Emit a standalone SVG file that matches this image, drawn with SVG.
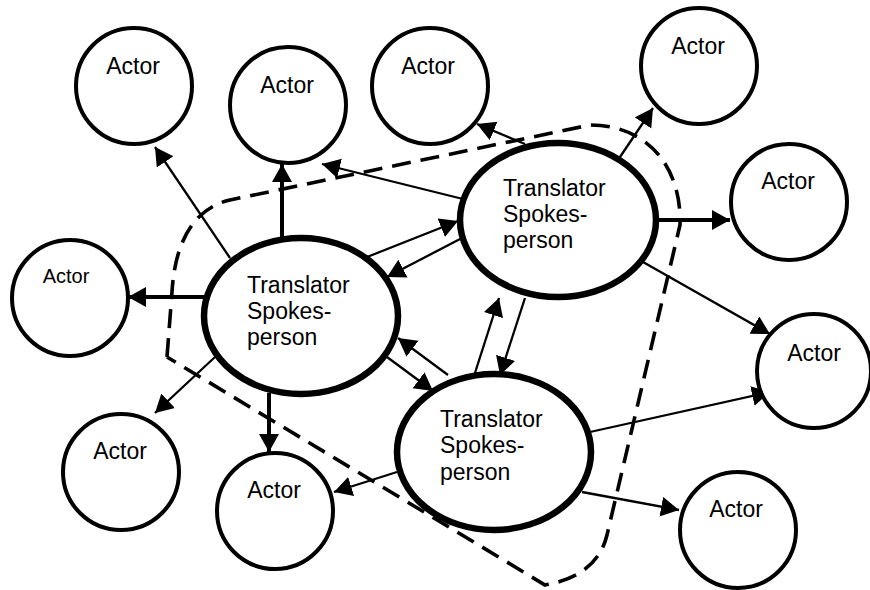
<svg xmlns="http://www.w3.org/2000/svg" width="870" height="590" viewBox="0 0 870 590">
<style>
.actor{fill:#fff;stroke:#000;stroke-width:4}
.trans{fill:#fff;stroke:#000;stroke-width:6.5}
.t{font-family:"Liberation Sans",Arial,sans-serif;font-size:23px;fill:#000}
.c{text-anchor:middle}
.thin{stroke:#000;stroke-width:2.3;fill:none;marker-end:url(#ah)}
.thick{stroke:#000;stroke-width:4;fill:none;marker-end:url(#ah)}
.dash{stroke:#000;stroke-width:3.6;fill:none;stroke-dasharray:19 10}
</style>
<defs>
<marker id="ah" markerUnits="userSpaceOnUse" markerWidth="20" markerHeight="22" refX="18" refY="10" orient="auto">
<path d="M0,0 L18,10 L0,20 Z" fill="#000"/>
</marker>
</defs>
<rect width="870" height="590" fill="#fff"/>
<g id="boundary">
<path class="dash" d="M167,357 L172,292 C175,240 195,208 230,200 L590,125 C650,125 682,170 680,225 L607,535 Q597,576 545,585 L167,357"/>
</g>
<g id="connectors">
<line class="thin" x1="230" y1="258" x2="155" y2="147"/>
<line class="thick" x1="282" y1="238" x2="282" y2="164"/>
<line class="thick" x1="205" y1="297" x2="128" y2="297"/>
<line class="thin" x1="215" y1="357" x2="155" y2="413"/>
<line class="thick" x1="269" y1="393" x2="269" y2="452"/>
<line class="thin" x1="387" y1="357" x2="433" y2="391"/>
<line class="thin" x1="448" y1="375" x2="398" y2="338"/>
<line class="thin" x1="367" y1="257" x2="458" y2="221"/>
<line class="thin" x1="462" y1="238" x2="387" y2="277"/>
<line class="thin" x1="463" y1="199" x2="322" y2="164"/>
<line class="thin" x1="525" y1="144" x2="477" y2="124"/>
<line class="thin" x1="620" y1="157" x2="653" y2="108"/>
<line class="thick" x1="657" y1="220" x2="730" y2="220"/>
<line class="thin" x1="643" y1="262" x2="770" y2="334"/>
<line class="thin" x1="525" y1="298" x2="500" y2="375"/>
<line class="thin" x1="474" y1="376" x2="499" y2="298"/>
<line class="thin" x1="590" y1="432" x2="770" y2="392"/>
<line class="thin" x1="582" y1="492" x2="679" y2="510"/>
<line class="thin" x1="397" y1="472" x2="334" y2="492"/>
</g>
<g id="actor1"><circle class="actor" cx="134" cy="86" r="58"/><text class="t c" x="133" y="74">Actor</text></g>
<g id="actor2"><circle class="actor" cx="288" cy="105" r="58"/><text class="t c" x="287" y="93">Actor</text></g>
<g id="actor3"><circle class="actor" cx="430" cy="86" r="58"/><text class="t c" x="428" y="74">Actor</text></g>
<g id="actor4"><circle class="actor" cx="699" cy="66" r="58"/><text class="t c" x="698" y="54">Actor</text></g>
<g id="actor5"><circle class="actor" cx="789" cy="202" r="58"/><text class="t c" x="788" y="189">Actor</text></g>
<g id="actor6"><circle class="actor" cx="70" cy="298" r="58"/><text class="t c" x="66" y="283" style="font-size:20px">Actor</text></g>
<g id="actor7"><circle class="actor" cx="814" cy="371" r="57"/><text class="t c" x="814" y="361">Actor</text></g>
<g id="actor8"><circle class="actor" cx="121" cy="472" r="58"/><text class="t c" x="120" y="459">Actor</text></g>
<g id="actor9"><circle class="actor" cx="275" cy="511" r="58"/><text class="t c" x="274" y="498">Actor</text></g>
<g id="actor10"><circle class="actor" cx="738" cy="530" r="58"/><text class="t c" x="736" y="517">Actor</text></g>
<g id="translatorA"><ellipse class="trans" cx="301" cy="316" rx="97" ry="78"/><text class="t" x="247" y="293">Translator</text><text class="t" x="247" y="319">Spokes-</text><text class="t" x="247" y="345">person</text></g>
<g id="translatorB"><ellipse class="trans" cx="558" cy="220" rx="98" ry="77"/><text class="t" x="503" y="196">Translator</text><text class="t" x="503" y="222">Spokes-</text><text class="t" x="503" y="248">person</text></g>
<g id="translatorC"><ellipse class="trans" cx="494" cy="452" rx="97" ry="78"/><text class="t" x="440" y="427">Translator</text><text class="t" x="440" y="453">Spokes-</text><text class="t" x="440" y="480">person</text></g>
</svg>
